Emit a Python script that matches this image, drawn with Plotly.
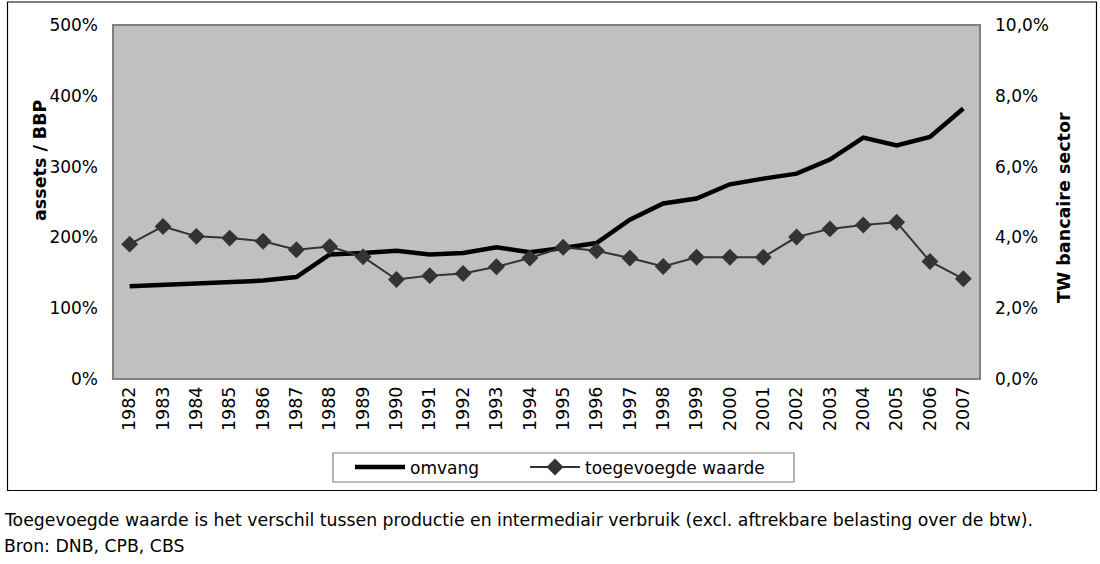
import plotly.graph_objects as go

years = [str(y) for y in range(1982, 2008)]
omvang = [131, 133, 135, 136, 139, 144, 176, 178, 181, 176, 178, 186, 179,
          185, 192, 225, 248, 255, 275, 283, 290, 310, 341, 330, 342, 382]
toegevoegd = [3.81, 4.31, 4.03, 3.98, 3.89, 3.65, 3.74, 3.45, 2.81, 2.92, 2.98, 3.17, 3.42,
              3.72, 3.62, 3.42, 3.18, 3.44, 3.44, 3.44, 4.01, 4.24, 4.35, 4.43, 3.32, 2.83]
left_ticks = [0, 100, 200, 300, 400, 500]
left_labels = ["0%", "100%", "200%", "300%", "400%", "500%"]
right_ticks = [0, 2, 4, 6, 8, 10]
right_labels = ["0,0%", "2,0%", "4,0%", "6,0%", "8,0%", "10,0%"]

W, H = 1100, 564
L, R, T, B = 113, 980, 25, 379

def px(x):
    return (x - L) / (R - L)

def py(y):
    return (B - y) / (B - T)

FONT = "DejaVu Sans, Liberation Sans, Arial, sans-serif"

fig = go.Figure()
fig.add_trace(go.Scatter(x=years, y=omvang, name="omvang", mode="lines",
                         line=dict(color="#000000", width=4.5), yaxis="y",
                         legend="legend"))
fig.add_trace(go.Scatter(x=years, y=toegevoegd, name="toegevoegde waarde", mode="lines+markers",
                         line=dict(color="#333333", width=2),
                         marker=dict(symbol="diamond", size=13, color="#333333"),
                         yaxis="y2", legend="legend2"))

legend_common = dict(orientation="h", yanchor="middle", xanchor="left",
                     borderwidth=0, bgcolor="rgba(0,0,0,0)", font=dict(size=17),
                     itemwidth=50)

fig.update_layout(
    width=W, height=H,
    margin=dict(l=L, r=W - R, t=T, b=H - B),
    paper_bgcolor="white",
    plot_bgcolor="#C0C0C0",
    font=dict(family=FONT, size=17, color="#000000"),
    showlegend=True,
    xaxis=dict(type="category", range=[-0.5, len(years) - 0.5], tickangle=-90,
               showgrid=False, zeroline=False, showline=False, ticks="",
               tickfont=dict(size=17.5), ticklabelstandoff=3),
    yaxis=dict(range=[0, 500], tickvals=left_ticks, ticktext=left_labels,
               showgrid=False, zeroline=False, showline=False, ticks="",
               ticklabelstandoff=14, tickfont=dict(size=17)),
    yaxis2=dict(range=[0, 10], tickvals=right_ticks, ticktext=right_labels,
                overlaying="y", side="right", showgrid=False, zeroline=False,
                showline=False, ticks="", ticklabelstandoff=14, tickfont=dict(size=17)),
    legend=dict(x=px(350), y=py(467.5), **legend_common),
    legend2=dict(x=px(525), y=py(467.5), **legend_common),
)

# plot area border
fig.add_shape(type="rect", xref="paper", yref="paper", x0=0, x1=1, y0=0, y1=1,
              line=dict(color="#808080", width=2), fillcolor="rgba(0,0,0,0)", layer="above")
# outer chart frame
fig.add_shape(type="rect", xref="paper", yref="paper", x0=px(7.5), x1=px(1096.5),
              y0=py(490.5), y1=py(2), line=dict(color="#000000", width=1.2),
              fillcolor="rgba(0,0,0,0)")
# legend box
fig.add_shape(type="rect", xref="paper", yref="paper", x0=px(333), x1=px(794),
              y0=py(482), y1=py(453), line=dict(color="#808080", width=1.2),
              fillcolor="white", layer="below")

fig.add_annotation(text="<b>assets / BBP</b>", textangle=-90, xref="paper", yref="paper",
                   x=px(28), y=py(160), showarrow=False, font=dict(size=17.5))
fig.add_annotation(text="<b>TW bancaire sector</b>", textangle=-90, xref="paper", yref="paper",
                   x=px(1076), y=py(208), showarrow=False, font=dict(size=17.5))
fig.add_annotation(text="Toegevoegde waarde is het verschil tussen productie en intermediair verbruik (excl. aftrekbare belasting over de btw).",
                   xref="paper", yref="paper", x=px(2), y=py(520), xanchor="left", yanchor="middle",
                   showarrow=False, font=dict(size=17.3))
fig.add_annotation(text="Bron: DNB, CPB, CBS",
                   xref="paper", yref="paper", x=px(2), y=py(546), xanchor="left", yanchor="middle",
                   showarrow=False, font=dict(size=17.3))

fig.write_html("out.html")
